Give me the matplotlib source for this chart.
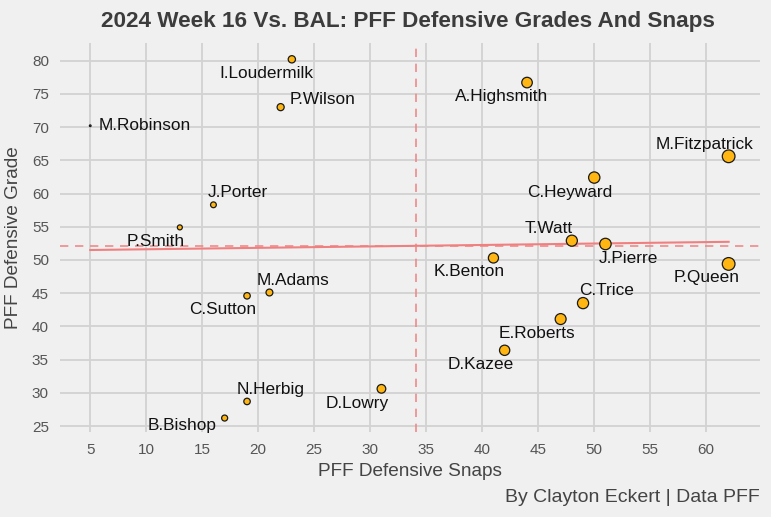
import numpy as np
import matplotlib
matplotlib.use("Agg")
import matplotlib.pyplot as plt

# data
players = ["M.Robinson", "I.Loudermilk", "P.Wilson", "J.Porter", "P.Smith",
           "A.Highsmith", "M.Fitzpatrick", "C.Heyward", "T.Watt", "J.Pierre",
           "K.Benton", "P.Queen", "C.Trice", "E.Roberts", "D.Kazee",
           "D.Lowry", "M.Adams", "C.Sutton", "N.Herbig", "B.Bishop"]
snaps = [5, 23, 22, 16, 13, 44, 62, 50, 48, 51, 41, 62, 49, 47, 42, 31, 21, 19, 19, 17]
grades = [70.2, 80.2, 73.0, 58.3, 54.9, 76.7, 65.6, 62.4, 52.9, 52.4,
          50.3, 49.4, 43.5, 41.1, 36.4, 30.6, 45.1, 44.6, 28.7, 26.2]

# label offsets in pixels (dx right, dy up)
label_off = [(55, 0), (-25, -14), (42, 8), (24, 12), (-24, -14),
             (-25, -14), (-24, 12), (-24, -15), (-23, 12), (23, -15),
             (-24, -14), (-22, -14), (24, 13), (-24, -14), (-24, -14),
             (-24, -15), (24, 12), (-24, -14), (24, 12), (-43, -7)]

bg = "#F0F0F0"
plt.rcParams["font.family"] = ["Liberation Sans", "DejaVu Sans"]

fig = plt.figure(figsize=(7.71, 5.17), dpi=100, facecolor=bg)
ax = fig.add_axes([60 / 771, 1 - 432 / 517, 700 / 771, (432 - 42.7) / 517])
ax.set_facecolor(bg)

x = np.array(snaps, dtype=float)
y = np.array(grades)

# point area scaled by snaps
s = 1.5 + (x - x.min()) / (x.max() - x.min()) * 82

ax.axvline(x.mean(), color="#F08A8A", ls=(0, (5, 4)), lw=1.2, zorder=2)
ax.axhline(y.mean(), color="#F08A8A", ls=(0, (5, 4)), lw=1.2, zorder=2)
b, a = np.polyfit(x, y, 1)
xx = np.array([x.min(), x.max()])
ax.plot(xx, a + b * xx, color="#F08080", lw=1.5, zorder=2)

ax.scatter(x, y, s=s, c="#FFB612", edgecolors="#1a1a1a", linewidths=0.9, zorder=3)

for name, xi, yi, (dx, dy) in zip(players, x, y, label_off):
    ax.annotate(name, (xi, yi), xytext=(dx, dy), textcoords="offset pixels",
                ha="center", va="center", fontsize=12.4, color="#111111", zorder=4)

ax.set_xlim(2.3, 64.8)
ax.set_ylim(24.1, 82.7)
ax.set_xticks(range(5, 61, 5))
ax.set_yticks(range(25, 81, 5))
ax.grid(True, color="#D2D2D2", lw=1.3)
ax.set_axisbelow(True)
for sp in ax.spines.values():
    sp.set_visible(False)
ax.tick_params(length=0, labelsize=11, labelcolor="#555555", pad=8)

ax.set_xlabel("PFF Defensive Snaps", fontsize=13.7, color="#444444", labelpad=4)
ax.set_ylabel("PFF Defensive Grade", fontsize=13.7, color="#444444", labelpad=7)

fig.text(407.5 / 771, 1 - 21 / 517, "2024 Week 16 Vs. BAL: PFF Defensive Grades And Snaps",
         ha="center", va="center", fontsize=16.2, fontweight="bold", color="#3C3C3C")
fig.text(760 / 771, 1 - 497 / 517, "By Clayton Eckert | Data PFF",
         ha="right", va="center", fontsize=14, color="#444444")

fig.savefig("out.png", dpi=100, facecolor=bg)
